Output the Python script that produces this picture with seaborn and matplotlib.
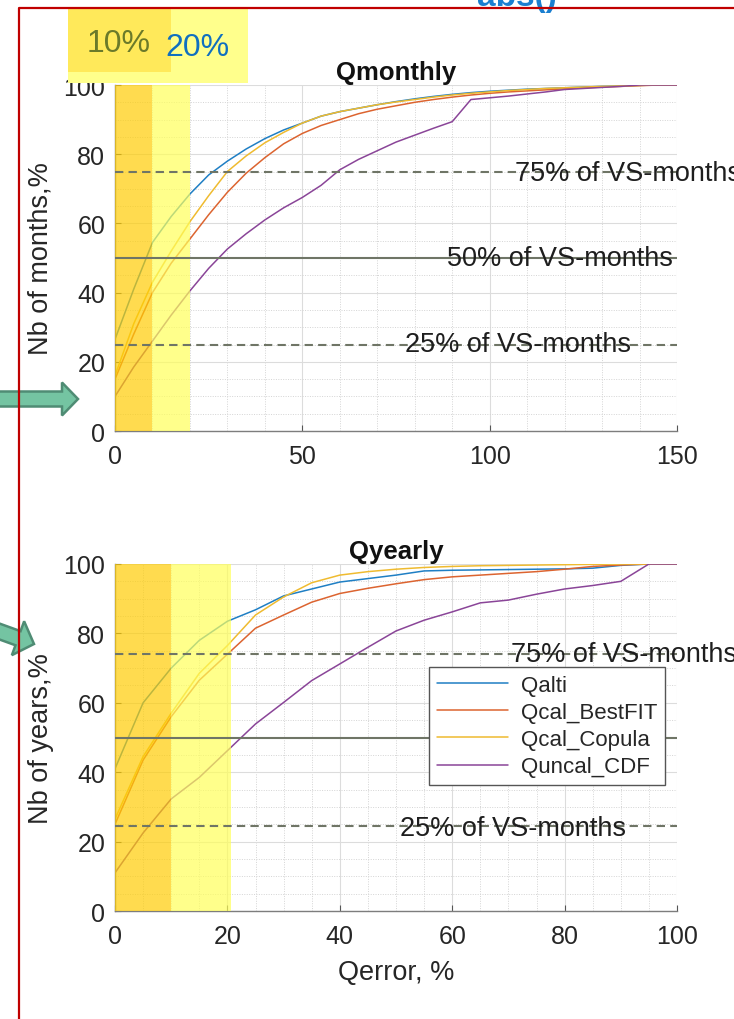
import numpy as np
import pandas as pd
import matplotlib
matplotlib.use("Agg")
import matplotlib.pyplot as plt
from matplotlib.patches import Rectangle, FancyArrow
from matplotlib.lines import Line2D
from matplotlib.ticker import MultipleLocator
from matplotlib.transforms import Affine2D
import seaborn as sns

# ---- data -------------------------------------------------------------
series_names = ["Qalti", "Qcal_BestFIT", "Qcal_Copula", "Quncal_CDF"]
series_colors = ["#1f7fc4", "#dc6430", "#efbb30", "#8a4598"]

# monthly errors (x: Qerror, %)
x_month = list(range(0, 155, 5))
month_qalti = [26.5, 41, 54.5, 62, 68.5, 74, 78, 81.5, 84.5, 87, 89, 91, 92.3, 93.3, 94.3,
               95.2, 96, 96.7, 97.3, 97.8, 98.2, 98.5, 98.8, 99.0, 99.2, 99.4, 99.6, 99.7,
               99.9, 100, 100]
month_bestfit = [15, 28, 40, 48.5, 55.5, 62.5, 69, 74.5, 79, 83, 86, 88.3, 90, 91.7, 93,
                 94, 95, 95.8, 96.5, 97.1, 97.6, 98, 98.3, 98.6, 98.9, 99.2, 99.4, 99.6,
                 99.8, 100, 100]
month_copula = [16, 31, 43, 52, 60.5, 68, 75, 79.5, 83.3, 86.3, 89, 91, 92.3, 93.3, 94.3,
                95.1, 95.8, 96.5, 97.1, 97.6, 98, 98.4, 98.7, 99, 99.2, 99.4, 99.6, 99.7,
                99.9, 100, 100]
month_uncal = [10, 18.5, 26, 33.5, 40.5, 47, 52.6, 57, 61, 64.5, 67.5, 71, 75.5, 78.5, 81,
               83.5, 85.5, 87.5, 89.4, 95.8, 96.3, 96.8, 97.4, 98, 98.7, 99, 99.3, 99.6,
               100, 100, 100]

# yearly errors
x_year = list(range(0, 105, 5))
year_qalti = [41, 60, 70, 78, 83.5, 86.8, 90.8, 92.8, 94.8, 95.8, 96.8, 98, 98.2, 98.3,
              98.4, 98.5, 98.6, 98.8, 99.6, 100, 100]
year_bestfit = [25, 43.5, 56, 66.5, 74, 81.5, 85.3, 89, 91.5, 93, 94.3, 95.5, 96.3, 96.8,
                97.3, 97.8, 98.5, 99.3, 99.7, 100, 100]
year_copula = [26.5, 44.5, 57, 68.5, 76.5, 85.3, 90.5, 94.6, 96.8, 97.8, 98.5, 99, 99.3,
               99.5, 99.6, 99.7, 99.8, 99.9, 100, 100, 100]
year_uncal = [11, 22.5, 32.3, 38.5, 46.2, 53.9, 60.1, 66.4, 71.2, 76, 80.7, 83.8, 86.2,
              88.8, 89.6, 91.3, 92.8, 93.8, 95, 100, 100]

# threshold levels (share of VS-months)
month_levels = [75, 50, 25]
year_levels = [74, 50, 24.5]
level_text = "% of VS-months"

# ---- style ------------------------------------------------------------
sns.set_theme(style="white")
plt.rcParams["font.family"] = ["Liberation Sans", "DejaVu Sans"]

W, H = 734, 1020
fig = plt.figure(figsize=(W / 100, H / 100), dpi=100)
# pixel coordinates measured from the top-left corner
PX = Affine2D().scale(1, -1).translate(0, H).scale(1 / W, 1 / H) + fig.transFigure


def long_frame(x, values):
    rows = []
    for name, vals in zip(series_names, values):
        for xi, yi in zip(x, vals):
            rows.append((xi, yi, name))
    return pd.DataFrame(rows, columns=["Qerror", "share", "series"])


df_month = long_frame(x_month, [month_qalti, month_bestfit, month_copula, month_uncal])
df_year = long_frame(x_year, [year_qalti, year_bestfit, year_copula, year_uncal])
palette = dict(zip(series_names, series_colors))

ax1 = fig.add_axes([115 / W, 1 - 432 / H, 562 / W, 346 / H])
ax2 = fig.add_axes([115 / W, 1 - 912 / H, 562 / W, 347 / H])

ref_color = "#6f7566"


def style_axes(ax, xmax, xmajor, xminor):
    ax.set_xlim(0, xmax)
    ax.set_ylim(0, 100)
    ax.xaxis.set_major_locator(MultipleLocator(xmajor))
    ax.xaxis.set_minor_locator(MultipleLocator(xminor))
    ax.yaxis.set_major_locator(MultipleLocator(20))
    ax.yaxis.set_minor_locator(MultipleLocator(5))
    ax.grid(which="major", color="#dcdcdc", linewidth=0.8, linestyle="-", zorder=0)
    ax.grid(which="minor", color="#d4d4d4", linewidth=0.7, linestyle=(0, (1, 1.5)), zorder=0)
    ax.set_axisbelow(True)
    for s in ("top", "right"):
        ax.spines[s].set_visible(False)
    for s in ("left", "bottom"):
        ax.spines[s].set_color("#7d7d7d")
        ax.spines[s].set_linewidth(1.0)
    ax.tick_params(which="major", direction="in", length=4, width=0.8, color="#555555",
                   labelsize=18, labelcolor="#262626", pad=7,
                   bottom=True, left=True)
    ax.tick_params(axis="x", which="major", pad=9)
    ax.tick_params(which="minor", length=0)


for ax, df, xmax, xmaj, xmin in ((ax1, df_month, 150, 50, 10), (ax2, df_year, 100, 20, 5)):
    sns.lineplot(data=df, x="Qerror", y="share", hue="series", palette=palette,
                 linewidth=1.1, ax=ax, legend=(ax is ax2), zorder=2)
    style_axes(ax, xmax, xmaj, xmin)
    # error bands 0-10 % and 10-20 %
    ax.axvspan(0, 10, color="#ffcd05", alpha=0.7, lw=0, zorder=3)
    ax.axvspan(10, 20.6 if ax is ax2 else 20, color="#ffff5a", alpha=0.7, lw=0, zorder=3)

# reference levels
for ax, levels in ((ax1, month_levels), (ax2, year_levels)):
    for lv in levels:
        ls = "-" if lv == 50 else (0, (4, 2.5))
        ax.axhline(lv, color=ref_color, lw=1.5, ls=ls, zorder=4)

txt_kw = dict(fontsize=19.5, color="#1e1e1e", va="center", ha="left", clip_on=False, zorder=5)
ax1.text(106.8, 74.6, f"{month_levels[0]}{level_text}", **txt_kw)
ax1.text(88.6, 50.0, f"{month_levels[1]}{level_text}", **txt_kw)
ax1.text(77.4, 25.0, f"{month_levels[2]}{level_text}", **txt_kw)
ax2.text(70.5, 74.1, "75" + level_text, **txt_kw)
ax2.text(50.7, 24.0, "25" + level_text, **txt_kw)

# titles and labels
ax1.set_title("Qmonthly", fontsize=18.5, fontweight="bold", pad=4, color="#111111")
ax2.set_title("Qyearly", fontsize=18.5, fontweight="bold", pad=4, color="#111111")
ax1.set_ylabel("Nb of months,%", fontsize=19.5, color="#262626", labelpad=7)
ax2.set_ylabel("Nb of years,%", fontsize=19.5, color="#262626", labelpad=7)
ax1.set_xlabel("")
ax2.set_xlabel("Qerror, %", fontsize=19.5, color="#262626", labelpad=8)

leg = ax2.legend(loc="upper left", bbox_to_anchor=((429 - 115) / 562, 1 - (668 - 565) / 347),
                 fontsize=16, frameon=True, fancybox=False, framealpha=1,
                 edgecolor="#555555", handlelength=3.2, handletextpad=0.6,
                 borderpad=0.35, labelspacing=0.28, borderaxespad=0)
leg.get_frame().set_linewidth(1.0)
leg.set_zorder(6)
for line in leg.get_lines():
    line.set_linewidth(1.1)

# band labels above the chart
fig.patches.append(Rectangle((68, 84), 180, -74, transform=PX, facecolor="#ffff8c",
                             edgecolor="none", zorder=1))
fig.patches.append(Rectangle((68, 73), 103, -63, transform=PX, facecolor="#ffe95a",
                             edgecolor="none", zorder=1))
fig.text(119, 44, "10%", transform=PX, fontsize=23, color="#6b7a2a", ha="center", va="center")
fig.text(197, 48, "20%", transform=PX, fontsize=23, color="#1070c0", ha="center", va="center")

# frame and headline
fig.text(517, 6, "abs()", transform=PX, fontsize=24, fontweight="bold", color="#1a7fd0",
         ha="center", va="baseline")
fig.lines.append(Line2D([19, 19, W + 5], [H + 5, 9, 9], transform=PX, color="#c00000",
                        lw=1.6, zorder=10))

# pointer arrows
fig.patches.append(FancyArrow(-6, 400, 84, 0, width=15, head_width=33, head_length=16,
                              length_includes_head=True, transform=PX, facecolor="#74c4a2",
                              edgecolor="#4f8c74", lw=1.8, zorder=5))
d = np.array([0.94, 0.34])
start = np.array([34, 645]) - 64 * d
fig.patches.append(FancyArrow(start[0], start[1], 64 * d[0], 64 * d[1], width=15,
                              head_width=36, head_length=17, length_includes_head=True,
                              transform=PX, facecolor="#74c4a2", edgecolor="#4f8c74",
                              lw=1.8, zorder=5))

fig.savefig("out.png", dpi=100)
